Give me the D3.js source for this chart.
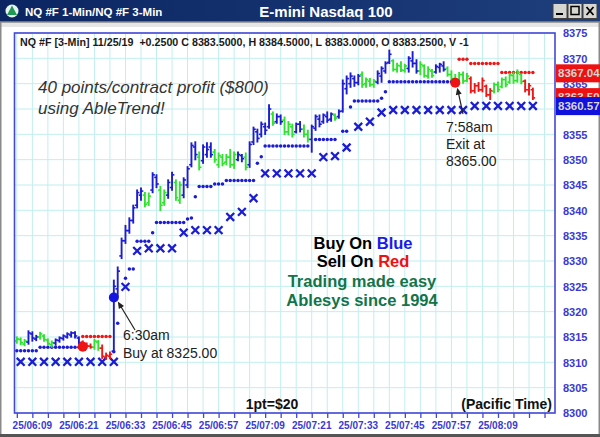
<!DOCTYPE html>
<html><head><meta charset="utf-8">
<script src="https://cdn.jsdelivr.net/npm/d3@7"></script>
<style>html,body{margin:0;padding:0;background:#fff;overflow:hidden}svg{display:block}</style>
</head><body>
<svg id="c" width="600" height="437"></svg>
<script>
// ---------- data ----------
const barStart = "06:05";   // first 1-min bar, one bar per minute
const barTrend = ["g","g","g","b","b","b","g","g","g","g",
  "b","b","b","b","b","b","b","r","r","r","g","g","r","r","r",
  "b","b","b","b","b","b","b","b","g","g","b","b","g","g","b","b","g","g","b","b","b","b",
  "g","b","b","b","g","g","g","g","g","g","b","b","g",
  "b","b","b","b","b","b","g","b","b","g","g","g","b","b","g","g",
  "b","b","b","b","b","b","g","b","b","b","b","b","b","g","g","g","g",
  "b","b","b","b","g","g","g","g","b","b","b","g","g","g","g","b","b","b",
  "g","g","g","g","g","g","r","r","r","r","r","r","g","g","g","g","g","g","g","g","r","r","r"];
const barHigh = [8315.0,8314.8,8314.5,8316.2,8316.0,8315.3,8315.9,8315.4,8314.6,8314.2,
  8314.6,8315.0,8315.4,8315.8,8316.0,8316.0,8315.0,8314.2,8313.8,8313.6,8314.5,8314.3,8313.4,8311.8,8312.0,
  8326.2,8328.8,8334.5,8337.0,8338.5,8341.0,8344.0,8344.4,8343.5,8343.4,8347.4,8347.0,8344.7,8344.0,8346.0,8347.5,8346.0,8345.6,8346.4,8348.6,8353.3,8353.5,
  8351.5,8352.9,8353.3,8353.3,8352.0,8351.3,8351.0,8351.0,8352.0,8351.5,8351.5,8351.0,8351.3,
  8353.5,8356.4,8356.0,8357.4,8357.2,8360.8,8359.4,8359.0,8358.8,8358.4,8357.5,8357.0,8357.2,8357.5,8356.8,8355.8,
  8356.8,8358.8,8358.8,8359.0,8359.4,8359.2,8359.0,8359.8,8365.7,8366.5,8367.1,8366.5,8366.8,8367.3,8366.1,8366.0,8365.8,
  8367.5,8368.3,8369.3,8371.6,8369.7,8369.0,8369.3,8368.8,8370.3,8371.3,8369.7,8369.3,8368.7,8368.3,8367.8,8368.7,8369.0,8369.3,
  8368.3,8367.5,8366.8,8367.2,8367.3,8367.0,8366.3,8365.0,8365.2,8366.1,8364.7,8364.0,8365.1,8365.3,8366.1,8366.3,8367.0,8367.2,8367.7,8366.9,8365.7,8365.0,8364.1];
const barLow = [8313.8,8313.5,8313.3,8313.6,8314.2,8314.3,8314.6,8314.2,8313.4,8313.0,
  8313.4,8314.0,8314.4,8314.8,8315.0,8314.8,8313.6,8313.0,8313.0,8312.8,8312.6,8312.4,8310.8,8310.6,8310.8,
  8312.0,8323.0,8330.5,8333.5,8335.5,8337.5,8340.5,8342.0,8340.7,8341.0,8343.5,8344.5,8340.0,8341.0,8342.4,8344.0,8342.0,8341.4,8342.5,8344.5,8348.6,8350.0,
  8348.0,8349.3,8350.5,8350.5,8349.5,8348.5,8348.8,8349.0,8348.5,8348.3,8349.8,8349.6,8348.0,
  8348.5,8353.0,8353.5,8354.5,8355.0,8356.2,8356.8,8357.2,8357.0,8355.0,8354.9,8354.5,8355.3,8355.5,8354.5,8353.5,
  8351.5,8355.8,8356.5,8357.2,8357.4,8357.6,8357.8,8358.2,8359.4,8363.0,8364.3,8364.5,8364.8,8364.3,8364.3,8364.5,8364.3,
  8365.0,8365.3,8367.1,8369.0,8367.5,8367.3,8367.4,8367.3,8367.3,8368.3,8367.1,8366.8,8366.3,8366.1,8366.3,8367.1,8367.3,8367.5,
  8366.5,8365.7,8365.0,8365.2,8365.1,8365.4,8363.2,8363.2,8363.5,8363.4,8362.5,8361.9,8363.2,8363.4,8364.2,8364.4,8365.1,8365.1,8365.3,8365.0,8363.4,8362.8,8361.9];
const barOpen = [8314.2,8314.5,8313.6,8314.0,8315.6,8314.6,8315.0,8315.2,8314.4,8313.5,
  8313.8,8314.3,8314.7,8315.0,8315.4,8315.8,8314.8,8314.0,8313.4,8313.2,8313.0,8314.0,8312.8,8311.0,8311.2,
  8312.2,8324.5,8331.0,8334.0,8336.0,8338.0,8341.0,8343.0,8343.0,8341.5,8344.0,8346.5,8344.0,8341.5,8343.0,8344.5,8345.5,8342.0,8343.0,8345.0,8349.0,8352.5,
  8350.5,8349.8,8351.0,8352.5,8351.5,8349.0,8350.5,8349.5,8350.5,8349.0,8350.0,8350.8,8350.5,
  8349.0,8353.5,8355.5,8355.0,8356.5,8356.5,8359.0,8357.5,8358.5,8357.8,8355.5,8356.5,8355.5,8357.0,8356.0,8355.0,
  8354.0,8356.2,8358.0,8357.5,8358.5,8358.0,8358.8,8358.5,8359.6,8364.0,8365.0,8366.0,8365.2,8366.8,8365.0,8365.5,8364.8,
  8365.3,8366.5,8367.5,8369.2,8369.5,8367.8,8368.5,8367.6,8368.0,8369.5,8369.0,8367.5,8368.5,8366.5,8367.5,8367.3,8368.2,8368.5,
  8368.0,8366.8,8366.0,8365.5,8366.8,8365.6,8366.0,8363.6,8364.6,8363.8,8364.5,8362.8,8363.5,8364.8,8364.4,8365.8,8365.3,8366.6,8365.6,8366.8,8365.5,8363.8,8363.8];
const barClose = [8314.6,8313.9,8314.2,8315.8,8314.8,8315.0,8315.6,8314.5,8313.7,8313.9,
  8314.4,8314.8,8315.2,8315.6,8315.8,8315.2,8313.8,8313.4,8313.2,8313.0,8314.2,8312.8,8311.2,8311.4,8311.6,
  8325.0,8328.0,8334.0,8336.0,8338.0,8340.5,8343.5,8343.8,8341.2,8342.8,8347.0,8345.2,8341.0,8343.5,8345.5,8347.0,8342.5,8345.0,8346.0,8348.2,8352.8,8351.0,
  8348.5,8352.5,8352.0,8351.0,8350.0,8350.8,8349.2,8350.5,8349.0,8351.0,8351.0,8350.2,8348.5,
  8353.0,8356.0,8354.2,8357.0,8355.8,8360.0,8357.2,8358.5,8357.5,8355.5,8357.0,8355.0,8357.0,8356.0,8355.0,8354.0,
  8356.5,8358.5,8357.0,8358.8,8357.8,8359.0,8358.2,8359.5,8365.0,8366.0,8366.5,8365.2,8366.5,8364.8,8365.8,8364.8,8365.5,
  8367.0,8368.0,8369.0,8370.8,8367.8,8368.6,8367.7,8368.5,8370.0,8369.0,8367.5,8368.8,8366.6,8367.8,8366.6,8368.4,8368.8,8367.8,
  8366.8,8366.0,8365.3,8366.8,8365.5,8366.5,8363.6,8364.6,8363.8,8365.6,8362.8,8363.6,8364.8,8363.8,8365.8,8364.8,8366.7,8365.6,8367.2,8365.4,8363.8,8364.6,8362.2];
// trailing stop per 1-min bar (null = none drawn) and its side
const stopValue = [8312.3,8312.3,8312.3,8312.3,8312.3,8312.3,
  8313.0,8313.0,8313.0,8313.0,8313.0,8313.0,8313.0,8313.0,8313.0,8313.0,8313.0,
  8315.1,8315.1,8315.1,8315.1,8315.1,8315.1,8315.1,8315.1,
  8312.1,8317.7,null,8326.6,8328.4,8328.4,8333.9,8333.9,8333.9,8333.9,8335.6,
  8337.6,8337.6,8337.6,8337.6,8337.6,8337.6,8337.6,8337.6,8338.3,8338.5,8342.7,
  8344.7,8344.7,8344.7,8344.7,8345.2,8345.2,8345.2,
  8345.9,8345.9,8345.9,8345.9,8345.9,8345.9,8345.9,8345.9,8349.3,8350.6,
  8352.7,8352.7,8352.7,8352.7,8352.7,8352.7,8352.7,8352.7,8352.7,8352.7,8352.7,8352.7,
  null,8354.0,8354.0,8354.0,8354.0,8354.0,8354.0,null,8355.6,8355.6,8360.4,
  8361.6,8361.6,8361.6,8361.6,8361.6,8361.6,8361.6,8362.1,8363.4,
  8365.4,8365.4,8365.4,8365.4,8365.4,8365.4,8365.4,8365.4,8365.4,8365.4,8365.4,8365.4,8365.4,8365.4,8365.4,8365.4,8365.4,8365.4,
  8369.8,8369.8,8369.8,8369.0,8369.0,8369.0,8369.0,8369.0,8369.0,8369.0,8369.0,
  8367.2,8367.2,8367.2,8367.2,8367.2,8367.2,8367.2,8367.2,8367.2];
const stopSide = ["b","b","b","b","b","b","b","b","b","b","b","b","b","b","b","b","b",
  "r","r","r","r","r","r","r","r",
  ...Array(89).fill("b"), ...Array(20).fill("r")];
// 3-min trend stop (X markers), one every 3 minutes starting at 06:06
const xStart = "06:06";
const xValue = [8310.1,8310.1,8310.1,8310.1,8310.1,8310.1,8310.1,8310.1,8310.1,
  8324.9,8332.0,8332.5,8332.5,8332.5,8335.6,8336.1,8336.1,8336.1,8338.7,8339.7,8342.4,
  8347.3,8347.3,8347.3,8347.3,8347.3,8350.5,8350.7,8352.4,8356.5,8357.5,8359.3,
  8359.8,8359.8,8359.8,8359.8,8359.8,8359.8,8359.8,
  8360.6,8360.6,8360.6,8360.6,8360.6,8360.6];
// signals
const signalTime = ["06:22","06:30","07:58"];
const signalValue = [8313.1, 8322.8, 8365.2];
const signalSide = ["r","b","r"];
// axes
const timeLabels = ["06:09","06:21","06:33","06:45","06:57","07:09","07:21","07:33","07:45","07:57","08:09"];
const priceTicks = [8300,8305,8310,8315,8320,8325,8330,8335,8340,8345,8350,8355,8360,8365,8370,8375];
const boxValues = [8367.04, 8363.50, 8360.57];
const boxLabels = ["8367.04","8363.50","8360.57"];
const boxSide = ["r","r","b"];

// ---------- helpers ----------
const toMin = s => { const [h,m] = s.split(":").map(Number); return h*60+m; };
const t0 = toMin(barStart);
const COL = {b:"#1c1cd2", g:"#2fe22f", r:"#ee1616"};
const FONT = "'Liberation Sans', Arial, sans-serif";

const svg = d3.select("#c");
const defs = svg.append("defs");
const L = 14.5, R = 555, T = 33, B = 413;
const x = d3.scaleLinear().domain([364.4, 503.7]).range([L, R]);
const y = d3.scaleLinear().domain([8300, 8375]).range([B, T]);

// ---------- window frame ----------
svg.append("rect").attr("x",0).attr("y",0).attr("width",600).attr("height",437).attr("fill","#ffffff");
const grad = defs.append("linearGradient").attr("id","tb").attr("x1",0).attr("x2",1);
grad.append("stop").attr("offset","0%").attr("stop-color","#0b2562");
grad.append("stop").attr("offset","100%").attr("stop-color","#1e3f7c");
svg.append("rect").attr("x",0).attr("y",0).attr("width",600).attr("height",22).attr("fill","url(#tb)");
svg.append("rect").attr("x",0).attr("y",22).attr("width",600).attr("height",5).attr("fill","#e6e6e6");
svg.append("rect").attr("x",0.75).attr("y",22).attr("width",598.5).attr("height",414).attr("fill","none").attr("stroke","#8a8a8a").attr("stroke-width",1.5);
svg.append("rect").attr("x",0).attr("y",434).attr("width",600).attr("height",3).attr("fill","#555");
// icon
svg.append("circle").attr("cx",12).attr("cy",11).attr("r",6.5).attr("fill","#e8f4ee");
svg.append("path").attr("d","M12,5.5 L17,15 L7,15 Z").attr("fill","#1f9a55");
svg.append("text").attr("x",25).attr("y",16).attr("fill","#fff").attr("font-family",FONT).attr("font-weight","bold").attr("font-size",11.5).text("NQ #F 1-Min/NQ #F 3-Min");
svg.append("text").attr("x",326).attr("y",17).attr("text-anchor","middle").attr("fill","#fff").attr("font-family",FONT).attr("font-weight","bold").attr("font-size",15).text("E-mini Nasdaq 100");
// window buttons
[[553,"min"],[568,"max"],[583,"close"]].forEach(([bx,k]) => {
  svg.append("rect").attr("x",bx).attr("y",3.5).attr("width",14).attr("height",15).attr("fill","#d8d6d0").attr("stroke","#404040").attr("stroke-width",1);
  if (k==="min") svg.append("rect").attr("x",bx+3).attr("y",13).attr("width",7).attr("height",2).attr("fill","#000");
  if (k==="max") svg.append("rect").attr("x",bx+3).attr("y",6.5).attr("width",8).attr("height",8).attr("fill","none").attr("stroke","#000").attr("stroke-width",1.5);
  if (k==="close") svg.append("path").attr("d",`M${bx+3.5},7 L${bx+10.5},15 M${bx+10.5},7 L${bx+3.5},15`).attr("stroke","#000").attr("stroke-width",1.8);
});

// ---------- grid ----------
const gridMin = d3.range(365, 504, 4);
const g = svg.append("g");
g.selectAll("line.v").data(gridMin).enter().append("line")
  .attr("x1",d=>x(d)).attr("x2",d=>x(d)).attr("y1",T).attr("y2",B)
  .attr("stroke","#c2eeee").attr("stroke-width",1);
g.selectAll("line.h").data(priceTicks).enter().append("line")
  .attr("x1",L).attr("x2",R).attr("y1",d=>y(d)).attr("y2",d=>y(d))
  .attr("stroke","#c2eeee").attr("stroke-width",1);

// ---------- header text ----------
svg.append("text").attr("x",20).attr("y",46).attr("fill","#1a1a1a").attr("font-family",FONT).attr("font-weight","bold").attr("font-size",10.7)
  .attr("xml:space","preserve")
  .text("NQ #F [3-Min] 11/25/19  +0.2500 C 8383.5000, H 8384.5000, L 8383.0000, O 8383.2500, V -1");

// ---------- X markers ----------
const xs0 = toMin(xStart);
const xData = xValue.map((v,i)=>({m: xs0 + 3*i, v}));
svg.append("g").selectAll("path").data(xData).enter().append("path")
  .attr("d", d => { const cx=x(d.m), cy=y(d.v), s=3.9; return `M${cx-s},${cy-s}L${cx+s},${cy+s}M${cx+s},${cy-s}L${cx-s},${cy+s}`; })
  .attr("stroke", COL.b).attr("stroke-width", 2.3).attr("fill","none");

// ---------- stop dots ----------
const stopData = stopValue.map((v,i)=>({m:t0+i, v, s:stopSide[i]})).filter(d=>d.v!==null);
svg.append("g").selectAll("circle").data(stopData).enter().append("circle")
  .attr("cx",d=>x(d.m)).attr("cy",d=>y(d.v)).attr("r",1.75).attr("fill",d=>COL[d.s]);

// ---------- OHLC bars ----------
const bars = barHigh.map((h,i)=>({m:t0+i, h, l:barLow[i], o:barOpen[i], c:barClose[i], t:barTrend[i]}));
const bg = svg.append("g");
bars.forEach(d => {
  const cx = x(d.m), col = COL[d.t];
  bg.append("line").attr("x1",cx).attr("x2",cx).attr("y1",y(d.h)-0.6).attr("y2",y(d.l)+0.6).attr("stroke",col).attr("stroke-width",1.9);
  bg.append("line").attr("x1",cx-2.3).attr("x2",cx).attr("y1",y(d.o)).attr("y2",y(d.o)).attr("stroke",col).attr("stroke-width",1.6);
  bg.append("line").attr("x1",cx).attr("x2",cx+2.3).attr("y1",y(d.c)).attr("y2",y(d.c)).attr("stroke",col).attr("stroke-width",1.6);
});

// ---------- signal dots ----------
const sig = signalTime.map((t,i)=>({m:toMin(t), v:signalValue[i], s:signalSide[i]}));
svg.append("g").selectAll("circle").data(sig).enter().append("circle")
  .attr("cx",d=>x(d.m)).attr("cy",d=>y(d.v)).attr("r",5)
  .attr("fill",d=>d.s==="b"?"#1414e0":"#ee1414");

// ---------- annotations ----------
function arrow(x1,y1,x2,y2){
  const a = Math.atan2(y2-y1,x2-x1), hl=7, hw=3;
  svg.append("line").attr("x1",x1).attr("y1",y1).attr("x2",x2-Math.cos(a)*hl*0.8).attr("y2",y2-Math.sin(a)*hl*0.8).attr("stroke","#222").attr("stroke-width",1.2);
  const bx=x2-Math.cos(a)*hl, by=y2-Math.sin(a)*hl;
  svg.append("path").attr("d",`M${x2},${y2}L${bx-Math.sin(a)*hw},${by+Math.cos(a)*hw}L${bx+Math.sin(a)*hw},${by-Math.cos(a)*hw}Z`).attr("fill","#222");
}
const buy = sig[1], ex = sig[2];
arrow(135, 330, x(buy.m)+4, y(buy.v)+4);
arrow(463, 114, x(ex.m)+2, y(ex.v)+5);
const txt = (t,xx,yy,opt={}) => svg.append("text").attr("x",xx).attr("y",yy).attr("font-family",FONT)
  .attr("font-size",opt.size||14).attr("font-weight",opt.weight||"normal").attr("font-style",opt.style||"normal")
  .attr("fill",opt.fill||"#222").attr("text-anchor",opt.anchor||"start").text(t);
txt("40 points/contract profit ($800)", 38, 93, {size:17, style:"italic", fill:"#333"});
txt("using AbleTrend!", 38, 114, {size:17, style:"italic", fill:"#333"});
txt("6:30am", 123, 340, {size:14});
txt("Buy at 8325.00", 123, 357.5, {size:14});
txt("7:58am", 446, 132, {size:14});
txt("Exit at", 446, 149, {size:14});
txt("8365.00", 446, 166, {size:14});

const tb = (parts, cx, yy, size) => {
  const t = svg.append("text").attr("x",cx).attr("y",yy).attr("text-anchor","middle").attr("font-family",FONT).attr("font-weight","bold").attr("font-size",size);
  parts.forEach(([s,c]) => t.append("tspan").attr("fill",c).text(s));
};
tb([["Buy On ","#000"],["Blue","#1a1aee"]], 363, 249, 16.5);
tb([["Sell On ","#000"],["Red","#ee1111"]], 363, 267, 16.5);
tb([["Trading made easy","#13744a"]], 362, 286.5, 16.5);
tb([["Ablesys since 1994","#13744a"]], 362, 306, 16.5);

txt("1pt=$20", 272, 409, {size:14, weight:"bold", fill:"#111", anchor:"middle"});
txt("(Pacific Time)", 552, 409, {size:14, weight:"bold", fill:"#111", anchor:"end"});

// ---------- plot border ----------
svg.append("rect").attr("x",L).attr("y",T).attr("width",R-L).attr("height",B-T).attr("fill","none").attr("stroke","#4646d8").attr("stroke-width",1.6);

// ---------- bottom axis ----------
const xa = d3.axisBottom(x).tickValues(gridMin).tickSize(5).tickFormat("");
const xg = svg.append("g").attr("transform",`translate(0,${B})`).call(xa);
xg.select(".domain").remove();
xg.selectAll(".tick line").attr("stroke","#4646d8").attr("stroke-width",1.3);
svg.append("g").selectAll("text").data(timeLabels).enter().append("text")
  .attr("x",d=>x(toMin(d))).attr("y",429).attr("text-anchor","middle")
  .attr("font-family",FONT).attr("font-weight","bold").attr("font-size",10).attr("fill","#3a3ad0")
  .text(d=>"25/"+d);

// ---------- price boxes ----------
const BH = 18;
// top and bottom boxes sit on their values; the middle one is tucked half under the blue one
const boxPos = [y(boxValues[0]), y(boxValues[2]) - BH/2, y(boxValues[2])];

// ---------- right axis (labels hidden under the price boxes are left out) ----------
const visibleTicks = priceTicks.filter(v => !boxPos.some(by => Math.abs(y(v) - by) < 6));
const ya = d3.axisRight(y).tickValues(visibleTicks).tickSize(0).tickPadding(0).tickFormat(d3.format("d"));
const yg = svg.append("g").attr("transform",`translate(563,0)`).call(ya);
yg.select(".domain").remove();
yg.selectAll("text").attr("font-family",FONT).attr("font-weight","bold").attr("font-size",11).attr("fill","#3a3ad0").attr("dy","0.35em");

// draw middle box first so the blue one covers it
[1,0,2].forEach(i => {
  const cy = boxPos[i], fill = boxSide[i]==="r" ? "#ee1111" : "#1111dd";
  const gb = svg.append("g");
  gb.append("rect").attr("x",556).attr("y",cy-BH/2).attr("width",44).attr("height",BH).attr("fill",fill);
  const t = gb.append("text").attr("x",558).attr("y",cy).attr("dy","0.36em").attr("font-family",FONT).attr("font-weight","bold").attr("font-size",11.5).attr("fill","#d6d6d6").text(boxLabels[i]);
  if (i === 1) {
    defs.append("clipPath").attr("id","cp1").append("rect").attr("x",556).attr("y",cy-BH/2).attr("width",44).attr("height",(boxPos[2]-BH/2)-(cy-BH/2));
    t.attr("clip-path","url(#cp1)");
  }
});
</script>
</body></html>
